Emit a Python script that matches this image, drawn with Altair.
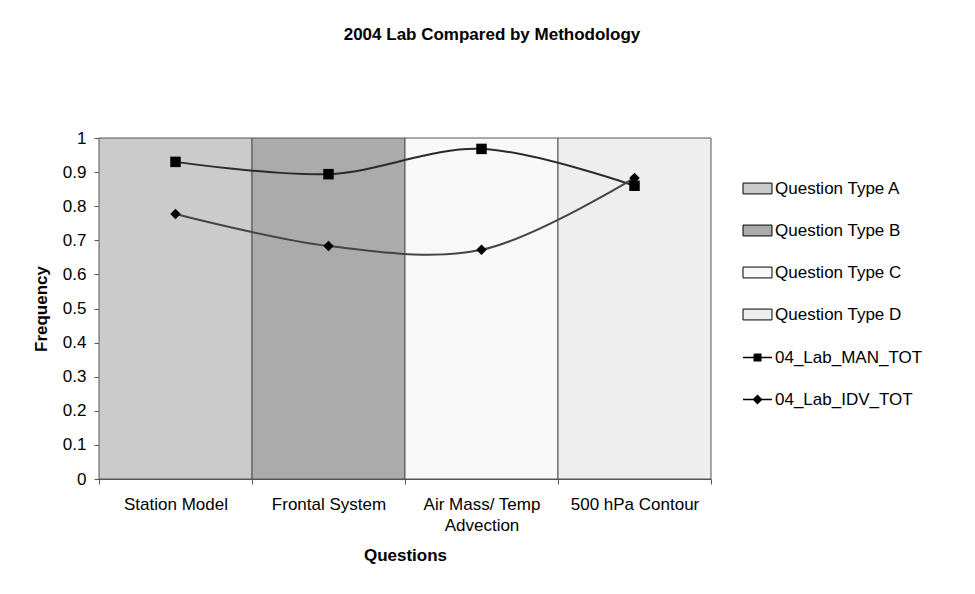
import altair as alt
import pandas as pd

categories = ["Station Model", "Frontal System", "Air Mass/ Temp Advection", "500 hPa Contour"]
band_types = ["Question Type A", "Question Type B", "Question Type C", "Question Type D"]
band_colors = ["#cbcbcb", "#ababab", "#f8f8f8", "#eeeeee"]
series_names = ["04_Lab_MAN_TOT", "04_Lab_IDV_TOT"]
man_tot = [0.93, 0.894, 0.968, 0.86]
idv_tot = [0.777, 0.683, 0.672, 0.883]
y_ticks = [0, 0.1, 0.2, 0.3, 0.4, 0.5, 0.6, 0.7, 0.8, 0.9, 1.0]

FONT = "Liberation Sans"
FS = 17

bands = pd.DataFrame({
    "question": categories,
    "type": band_types,
    "top": [1.0] * len(categories),
    "bottom": [0.0] * len(categories),
})

lines = pd.DataFrame({
    "question": categories + categories,
    "series": [series_names[0]] * 4 + [series_names[1]] * 4,
    "value": man_tot + idv_tot,
    "order": list(range(4)) + list(range(4)),
})

x_scale = alt.Scale(type="band", domain=categories, paddingInner=0, paddingOuter=0)
x_axis = alt.Axis(
    title="Questions",
    labelExpr="datum.label == 'Air Mass/ Temp Advection' ? ['Air Mass/ Temp', 'Advection'] : datum.label",
    labelAngle=0,
    tickBand="extent",
    tickSize=5,
    tickColor="#555555",
    domainColor="#555555",
    labelFontSize=FS,
    labelColor="black",
    labelPadding=12,
    labelLineHeight=21.5,
    titleFontSize=FS,
    titleFontWeight="bold",
    titlePadding=14,
    titleColor="black",
)
y_axis = alt.Axis(
    title="Frequency",
    values=y_ticks,
    tickCount=11,
    format="~g",
    grid=False,
    labelOverlap=False,
    labelFlush=False,
    tickSize=5,
    tickColor="#555555",
    domainColor="#555555",
    labelFontSize=FS,
    labelColor="black",
    labelPadding=8,
    titleFontSize=FS,
    titleFontWeight="bold",
    titlePadding=12,
    titleColor="black",
)
y_scale = alt.Scale(domain=[0, 1], nice=False)

X = alt.X("question:N", sort=categories, scale=x_scale, axis=x_axis)
Y = alt.Y("value:Q", scale=y_scale, axis=y_axis)

band_layer = alt.Chart(bands).mark_rect(stroke="#555555", strokeWidth=1).encode(
    x=X,
    y=alt.Y("top:Q", scale=y_scale, axis=y_axis),
    y2="bottom:Q",
    fill=alt.Fill(
        "type:N",
        scale=alt.Scale(domain=band_types, range=band_colors),
        legend=alt.Legend(
            title=None,
            orient="none",
            legendX=650,
            legendY=42,
            symbolType="M-2,-0.75H2V0.75H-2Z",
            symbolSize=210,
            symbolStrokeColor="black",
            symbolStrokeWidth=1,
            labelOffset=9,
            labelFontSize=FS,
            labelColor="black",
            rowPadding=24,
        ),
    ),
)

line_layer = alt.Chart(lines).mark_line(
    interpolate="catmull-rom", strokeWidth=2
).encode(
    x=X,
    y=Y,
    detail="series:N",
    order="order:Q",
    color=alt.Color(
        "series:N",
        scale=alt.Scale(domain=series_names, range=["#2a2a2a", "#444444"]),
        legend=None,
    ),
)

marker_layer = alt.Chart(lines).mark_point(
    filled=True, strokeWidth=0, opacity=1, color="black", size=110
).encode(
    x=X,
    y=Y,
    shape=alt.Shape(
        "series:N",
        scale=alt.Scale(domain=series_names, range=["square", "diamond"]),
        legend=None,
    ),
)

square_glyph = (
    "M-2,0H2"
    "M-0.45,-0.45H0.45V-0.3H-0.45V-0.15H0.45V0H-0.45V0.15H0.45V0.3H-0.45V0.45H0.45V-0.45"
    "M-0.45,-0.45V0.45"
)
diamond_glyph = (
    "M-2,0H2"
    "M0,-0.55L0.55,0L0,0.55L-0.55,0Z"
    "M-0.1,-0.45H0.1M-0.25,-0.3H0.25M-0.4,-0.15H0.4"
    "M-0.4,0.15H0.4M-0.25,0.3H0.25M-0.1,0.45H0.1"
)

legend_layer = alt.Chart(lines).mark_point(
    filled=False, strokeWidth=1.5, opacity=0, color="black", size=210
).encode(
    x=X,
    y=Y,
    shape=alt.Shape(
        "series:N",
        scale=alt.Scale(domain=series_names, range=[square_glyph, diamond_glyph]),
        legend=alt.Legend(
            title=None,
            orient="none",
            legendX=650,
            legendY=211,
            symbolSize=210,
            symbolOpacity=1,
            symbolStrokeColor="black",
            symbolStrokeWidth=1.5,
            labelOffset=9,
            labelFontSize=FS,
            labelColor="black",
            rowPadding=24,
        ),
    ),
)

chart = alt.layer(band_layer, line_layer, marker_layer, legend_layer).properties(
    width=612,
    height=341,
    autosize=alt.AutoSizeParams(type="none"),
    padding={"left": 91, "top": 130, "right": 256, "bottom": 107},
    title=alt.TitleParams(
        "2004 Lab Compared by Methodology",
        fontSize=FS,
        fontWeight="bold",
        font=FONT,
        color="black",
        anchor="middle",
        offset=85,
        dx=87,
    ),
).resolve_scale(
    color="independent",
    shape="independent",
).configure(
    font=FONT,
    background="white",
).configure_view(
    stroke=None,
)

chart.save("out.html", embed_options={"renderer": "svg", "actions": False})
